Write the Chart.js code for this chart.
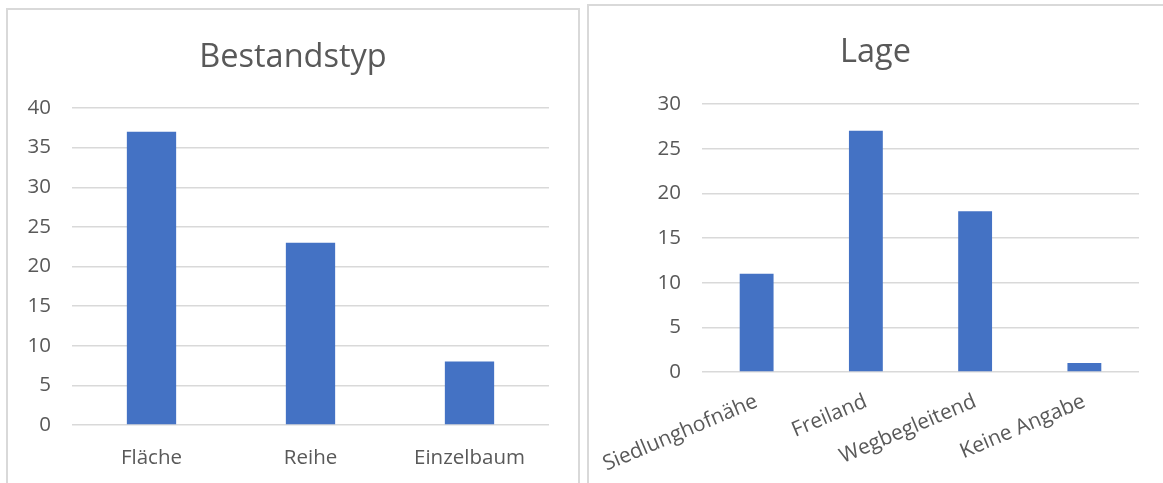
<!DOCTYPE html>
<html>
<head>
<meta charset="utf-8">
<script src="https://cdn.jsdelivr.net/npm/chart.js@4"></script>
<style>
  html, body { margin: 0; padding: 0; background: #fff; overflow: hidden; }
  .box { position: absolute; border: 2px solid #d9d9d9; background: #fff; }
  #box1 { left: 6px; top: 8px; width: 570px; height: 490px; }
  #box2 { left: 587px; top: 4px; width: 590px; height: 490px; }
  .box canvas { position: absolute; left: 0; top: 0; }
</style>
</head>
<body>
<div class="box" id="box1"><canvas id="c1" width="570" height="473"></canvas></div>
<div class="box" id="box2"><canvas id="c2" width="573" height="477"></canvas></div>
<script>
// ---- data ----
const typLabels = ['Fläche', 'Reihe', 'Einzelbaum'];
const typValues = [37, 23, 8];
const typTicks  = [0, 5, 10, 15, 20, 25, 30, 35, 40];

const lageLabels = ['Siedlunghofnähe', 'Freiland', 'Wegbegleitend', 'Keine Angabe'];
const lageValues = [11, 27, 18, 1];
const lageTicks  = [0, 5, 10, 15, 20, 25, 30];

const FONT = "'Open Sans', 'DejaVu Sans', sans-serif";
const TEXT = '#595959';
const GRID = '#d9d9d9';
const BAR  = '#4472c4';

function makeChart(id, title, labels, values, ticks, geo) {
  return new Chart(document.getElementById(id), {
    type: 'bar',
    data: {
      labels,
      datasets: [{
        data: values,
        backgroundColor: BAR,
        borderWidth: 0,
        categoryPercentage: 1,
        barPercentage: geo.barPct,
      }]
    },
    options: {
      responsive: false,
      animation: false,
      layout: { padding: 0 },
      plugins: {
        legend: { display: false },
        tooltip: { enabled: false },
        title: {
          display: true,
          text: title,
          color: TEXT,
          font: { family: FONT, size: 32.5, weight: 'normal', lineHeight: 1.2 },
          padding: { top: geo.titleTop, bottom: geo.titleBottom },
        }
      },
      scales: {
        x: {
          border: { display: false },
          grid: { display: false, drawTicks: false },
          ticks: {
            color: TEXT,
            font: { family: FONT, size: geo.xFont },
            padding: geo.xPad,
            maxRotation: geo.rot,
            minRotation: geo.rot,
            autoSkip: false,
          },
          afterFit: s => {
            s.height = geo.xHeight;
            s.paddingLeft = 0;
            s.paddingRight = 0;
          }
        },
        y: {
          min: ticks[0],
          max: ticks[ticks.length - 1],
          border: { display: false },
          grid: { color: GRID, lineWidth: 1.5, drawTicks: false },
          afterBuildTicks: s => { s.ticks = ticks.map(v => ({ value: v })); },
          ticks: {
            color: TEXT,
            font: { family: FONT, size: 20.5 },
            padding: 21,
          },
          afterFit: s => { s.width = geo.yWidth; }
        },
        // empty spacer on the right so the title stays centred on the box
        spacer: {
          type: 'linear',
          position: 'right',
          border: { display: false },
          grid: { display: false, drawTicks: false },
          ticks: { display: false },
          afterFit: s => { s.width = geo.right; }
        }
      }
    }
  });
}

makeChart('c1', 'Bestandstyp', typLabels, typValues, typTicks, {
  right: 29, barPct: 0.31, titleTop: 28, titleBottom: 31,
  xFont: 20.5, xPad: 21, rot: 0, xHeight: 58, yWidth: 64
});

makeChart('c2', 'Lage', lageLabels, lageValues, lageTicks, {
  right: 23, barPct: 0.31, titleTop: 27, titleBottom: 32,
  xFont: 21, xPad: 17, rot: 23, xHeight: 111, yWidth: 113
});
</script>
</body>
</html>
